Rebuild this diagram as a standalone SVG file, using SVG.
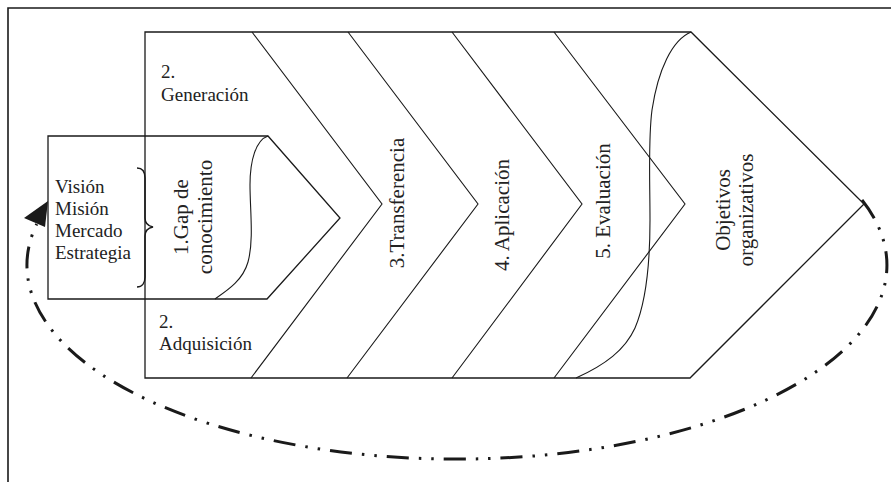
<svg xmlns="http://www.w3.org/2000/svg" width="891" height="482" viewBox="0 0 891 482">
<style>
.ln{fill:none;stroke:#1a1a1a;stroke-width:1.1;stroke-linejoin:miter}
.bx{fill:none;stroke:#1a1a1a;stroke-width:1.3}
.t{font-family:"Liberation Serif","Times New Roman",serif;font-size:19px;fill:#222}
.r{font-family:"Liberation Serif","Times New Roman",serif;font-size:21px;fill:#222;text-anchor:middle}
.loop{fill:none;stroke:#1a1a1a;stroke-width:3;stroke-dasharray:22 10 2.5 10 2.5 10}
</style>
<rect width="891" height="482" fill="#fff"/>
<g id="frame">
<path d="M8,482 L8,8 L891,8" fill="none" stroke="#1a1a1a" stroke-width="1.6"/>
</g>
<g id="process-arrow">
<polygon class="bx" points="145,32 691,32 864,204 690,378 145,378"/>
</g>
<g id="stage-dividers">
<path class="ln" d="M252,32 L382,204 L251,378"/>
<path class="ln" d="M348,32 L478,204 L347,378"/>
<path class="ln" d="M452,32 L582,204 L452,378"/>
<path class="ln" d="M554,32 L685,204 L554,378"/>
<path class="ln" d="M691,32 C672,40 658,70 652,110 C648,140 650,180 650,220 C650,260 647,300 635,328 C625,350 605,365 576,378"/>
</g>
<g id="gap-box">
<polygon class="bx" points="48,136 268,136 340,218 267,299 48,299"/>
<path class="ln" d="M268,136 C256,140 250,160 250,185 C250,210 254,240 248,262 C243,280 228,290 215,299"/>
<path d="M137,168 C142,168 145,171 145,178 L145,218 C145,223 148,226 153,227 C148,228 145,231 145,236 L145,277 C145,283 142,287 137,287" fill="none" stroke="#1a1a1a" stroke-width="1.5"/>
</g>
<g id="node-inputs">
<text class="t" x="55" y="193">Visión</text>
<text class="t" x="55" y="215">Misión</text>
<text class="t" x="55" y="237">Mercado</text>
<text class="t" x="55" y="259">Estrategia</text>
</g>
<g id="node-gap">
<text class="r" transform="translate(188,217) rotate(-90)">1.Gap de</text>
<text class="r" transform="translate(212,217) rotate(-90)">conocimiento</text>
</g>
<g id="node-generacion">
<text class="t" x="161" y="78">2.</text>
<text class="t" x="161" y="101">Generación</text>
</g>
<g id="node-adquisicion">
<text class="t" x="159" y="328">2.</text>
<text class="t" x="159" y="350">Adquisición</text>
</g>
<g id="node-transferencia">
<text class="r" transform="translate(404,203) rotate(-90)">3.Transferencia</text>
</g>
<g id="node-aplicacion">
<text class="r" transform="translate(509,215) rotate(-90)">4. Aplicación</text>
</g>
<g id="node-evaluacion">
<text class="r" transform="translate(610,201) rotate(-90)">5. Evaluación</text>
</g>
<g id="node-objetivos">
<text class="r" transform="translate(730,210) rotate(-90)">Objetivos</text>
<text class="r" transform="translate(753,210) rotate(-90)">organizativos</text>
</g>
<g id="connectors">
<path class="loop" d="M862,200 A430,194 0 1 1 36.7,224"/>
<polygon points="48,201 24,218 45,227" fill="#1a1a1a"/>
</g>
</svg>
